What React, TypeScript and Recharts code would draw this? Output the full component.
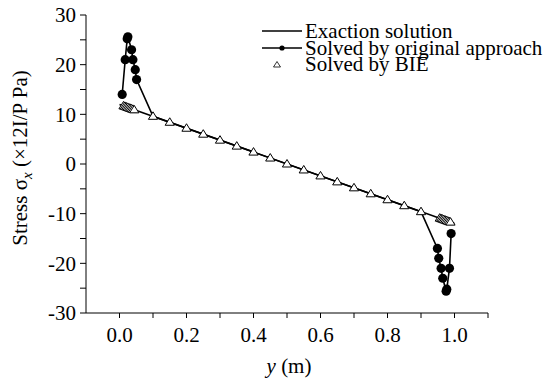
import React from 'react';
import { ComposedChart, Line, Scatter, XAxis, YAxis } from 'recharts';

// Exact (analytical) solution: straight line
const exactSolution = [
  { x: 0, y: 12 },
  { x: 1, y: -12 },
];

// Solved by original approach (dots near the two boundaries)
const originalLeft = [
  { x: 0.008, y: 14 },
  { x: 0.017, y: 21 },
  { x: 0.023, y: 25.2 },
  { x: 0.025, y: 25.6 },
  { x: 0.036, y: 23 },
  { x: 0.04, y: 21 },
  { x: 0.047, y: 19 },
  { x: 0.051, y: 17 },
];
const originalInterior = [
  { x: 0.1, y: 9.6 },
  { x: 0.9, y: -9.6 },
];
const originalRight = [
  { x: 0.949, y: -17 },
  { x: 0.953, y: -19 },
  { x: 0.96, y: -21 },
  { x: 0.965, y: -23 },
  { x: 0.975, y: -25.6 },
  { x: 0.977, y: -25.2 },
  { x: 0.985, y: -21 },
  { x: 0.99, y: -14 },
];

// Solved by BIE (triangles)
const bieLeft = [
  { x: 0.012, y: 11.7 },
  { x: 0.016, y: 11.6 },
  { x: 0.02, y: 11.5 },
  { x: 0.024, y: 11.4 },
  { x: 0.028, y: 11.3 },
  { x: 0.032, y: 11.2 },
  { x: 0.036, y: 11.1 },
  { x: 0.04, y: 11.0 },
  { x: 0.044, y: 10.9 },
];
const bieInterior = [
  { x: 0.1, y: 9.6 },
  { x: 0.15, y: 8.4 },
  { x: 0.2, y: 7.2 },
  { x: 0.25, y: 6.0 },
  { x: 0.3, y: 4.8 },
  { x: 0.35, y: 3.6 },
  { x: 0.4, y: 2.4 },
  { x: 0.45, y: 1.2 },
  { x: 0.5, y: 0 },
  { x: 0.55, y: -1.2 },
  { x: 0.6, y: -2.4 },
  { x: 0.65, y: -3.6 },
  { x: 0.7, y: -4.8 },
  { x: 0.75, y: -6.0 },
  { x: 0.8, y: -7.2 },
  { x: 0.85, y: -8.4 },
  { x: 0.9, y: -9.6 },
];
const bieRight = [
  { x: 0.956, y: -10.9 },
  { x: 0.96, y: -11.0 },
  { x: 0.964, y: -11.1 },
  { x: 0.968, y: -11.2 },
  { x: 0.972, y: -11.3 },
  { x: 0.976, y: -11.4 },
  { x: 0.98, y: -11.5 },
  { x: 0.984, y: -11.6 },
  { x: 0.988, y: -11.7 },
];

const xTicks = [0, 0.1, 0.2, 0.3, 0.4, 0.5, 0.6, 0.7, 0.8, 0.9, 1.0, 1.1];
const yTicks = [-30, -25, -20, -15, -10, -5, 0, 5, 10, 15, 20, 25, 30];
const xLabeled = [0, 0.2, 0.4, 0.6, 0.8, 1.0];
const yLabeled = [-30, -20, -10, 0, 10, 20, 30];

const legendItems = ['Exaction solution', 'Solved by original approach', 'Solved by BIE'];

const FONT = '"Liberation Serif", "DejaVu Serif", serif';

const Triangle = (props: any) => {
  const { cx, cy } = props;
  if (cx == null || cy == null) return null;
  return (
    <path
      d={`M${cx},${cy - 4.5} L${cx + 4.6},${cy + 3} L${cx - 4.6},${cy + 3} Z`}
      fill="#fff"
      stroke="#000"
      strokeWidth={1}
    />
  );
};

const Dot = (props: any) => {
  const { cx, cy } = props;
  if (cx == null || cy == null) return null;
  return <circle cx={cx} cy={cy} r={4.6} fill="#000" stroke="none" />;
};

export default function App() {
  const bieAll = [...bieLeft, ...bieInterior, ...bieRight];
  const originalAll = [...originalLeft, ...originalInterior, ...originalRight];
  const originalDots = [...originalLeft, ...originalRight];

  const tickStyle = { fontFamily: FONT, fontSize: 21, fill: '#000' };

  return (
    <div style={{ position: 'absolute', left: 0, top: 0, width: 547, height: 381, background: '#fff' }}>
      <ComposedChart
        width={547}
        height={381}
        margin={{ top: 15, right: 59, bottom: 0, left: 0 }}
      >
        <XAxis
          type="number"
          dataKey="x"
          domain={[-0.1, 1.1]}
          ticks={xTicks}
          interval={0}
          height={68}
          tickSize={5}
          tickMargin={9}
          stroke="#000"
          tick={tickStyle}
          tickLine={{ stroke: '#000' }}
          axisLine={{ stroke: '#000' }}
          allowDataOverflow
          tickFormatter={(v: number) =>
            xLabeled.some((t) => Math.abs(t - v) < 1e-9) ? v.toFixed(1) : ''
          }
        />
        <YAxis
          type="number"
          domain={[-30, 30]}
          ticks={yTicks}
          interval={0}
          width={86}
          tickSize={6}
          tickMargin={4}
          stroke="#000"
          tick={tickStyle}
          tickLine={{ stroke: '#000' }}
          axisLine={{ stroke: '#000' }}
          allowDataOverflow
          tickFormatter={(v: number) => (yLabeled.includes(v) ? String(v) : '')}
        />
        <Line
          data={exactSolution}
          dataKey="y"
          type="linear"
          stroke="#000"
          strokeWidth={1.6}
          dot={false}
          activeDot={false}
          isAnimationActive={false}
        />
        <Line
          data={originalAll}
          dataKey="y"
          type="linear"
          stroke="#000"
          strokeWidth={1.6}
          dot={false}
          activeDot={false}
          isAnimationActive={false}
        />
        <Scatter data={originalDots} dataKey="y" shape={Dot} isAnimationActive={false} />
        <Scatter data={bieAll} dataKey="y" shape={Triangle} isAnimationActive={false} />
      </ComposedChart>

      <svg
        width={547}
        height={381}
        style={{ position: 'absolute', left: 0, top: 0, pointerEvents: 'none' }}
        fontFamily={FONT}
        fontSize={21}
      >
        {/* Axis titles */}
        <text
          transform="translate(27,158) rotate(-90)"
          textAnchor="middle"
          fill="#000"
        >
          Stress σ
          <tspan fontStyle="italic" fontSize={15} dy={5}>x</tspan>
          <tspan dy={-5}> (×12I/P Pa)</tspan>
        </text>
        <text x={289} y={373} textAnchor="middle" fill="#000">
          <tspan fontStyle="italic">y</tspan> (m)
        </text>

        {/* Legend */}
        <line x1={262} x2={302} y1={31} y2={31} stroke="#000" strokeWidth={1.6} />
        <text x={305} y={38} fill="#000">{legendItems[0]}</text>

        <line x1={262} x2={302} y1={48} y2={48} stroke="#000" strokeWidth={1.6} />
        <circle cx={282} cy={48} r={2.6} fill="#000" />
        <text x={305} y={55} fill="#000">{legendItems[1]}</text>

        <path d="M277,61.5 L280.5,67 L273.5,67 Z" fill="#fff" stroke="#000" strokeWidth={0.8} />
        <text x={305} y={71} fill="#000">{legendItems[2]}</text>
      </svg>
    </div>
  );
}
